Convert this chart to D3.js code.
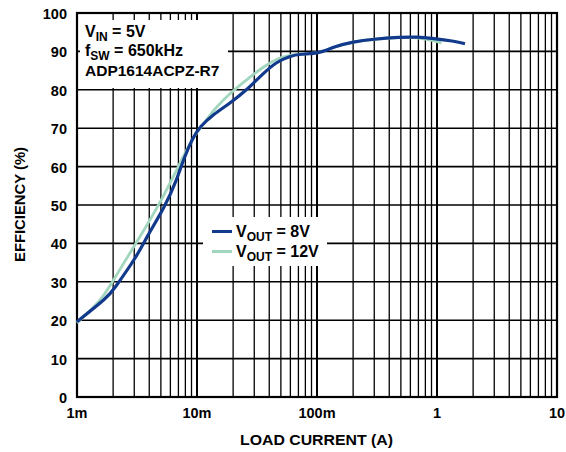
<!DOCTYPE html>
<html><head><meta charset="utf-8">
<script src="https://cdn.jsdelivr.net/npm/d3@7"></script>
<style>
body{margin:0;background:#fff;}
svg text{font-family:"Liberation Sans",Arial,sans-serif;font-weight:bold;fill:#000;}
</style></head>
<body><svg id="c" width="566" height="452"></svg>
<script>
// Load current (A) and efficiency (%)
const current8 = [0.001,0.00182,0.00201,0.00314,0.00381,0.00541,0.00677,0.00769,0.00931,0.0106,0.0137,0.0188,0.0259,0.0357,0.0461,0.0596,0.0721,0.106,0.137,0.201,0.294,0.492,0.677,0.931,1.37,1.71];
const eff8     = [19.6,26.1,27.9,36.5,41.7,49.6,56.5,61.8,67.8,70.4,73.6,76.5,79.9,84.3,87.3,88.8,89.3,89.5,91.2,92.5,93.2,93.7,93.8,93.4,92.7,92.0];
const current12 = [0.001,0.00161,0.00201,0.0031,0.00492,0.00721,0.00931,0.0120,0.0137,0.0188,0.0259,0.0357,0.0492,0.0677,0.106,0.137,0.201,0.294,0.492,0.677,0.931,1.09];
const eff12     = [19.3,25.3,30.5,40.0,50.4,60.9,67.8,72.1,74.7,79.1,82.6,86.0,88.6,89.3,89.5,91.2,92.5,93.2,93.7,93.7,92.8,92.2];
const xTicks = [0.001,0.01,0.1,1,10];
const xTickLabels = ["1m","10m","100m","1","10"];
const yTicks = [0,10,20,30,40,50,60,70,80,90,100];
const seriesNames = ["8V","12V"];
const seriesColors = ["#123a8c","#a3d6be"];

const svg = d3.select("#c");
const L=77,R=557,T=13,B=397;
const x = d3.scaleLog().domain([0.001,10]).range([L,R]);
const y = d3.scaleLinear().domain([0,100]).range([B,T]);

// minor vertical grid
const minor=[];
for(let d=0.001; d<10; d*=10){ for(let k=2;k<=9;k++) minor.push(d*k); }
svg.append("g").selectAll("line").data(minor).join("line")
  .attr("x1",d=>x(d)).attr("x2",d=>x(d)).attr("y1",T).attr("y2",B)
  .attr("stroke","#000").attr("stroke-width",1.3);
svg.append("g").selectAll("line").data(xTicks).join("line")
  .attr("x1",d=>x(d)).attr("x2",d=>x(d)).attr("y1",T).attr("y2",B)
  .attr("stroke","#000").attr("stroke-width",2);
svg.append("g").selectAll("line").data(yTicks).join("line")
  .attr("x1",L).attr("x2",R).attr("y1",d=>y(d)).attr("y2",d=>y(d))
  .attr("stroke","#000").attr("stroke-width",1.6);

// white boxes
svg.append("rect").attr("x",80).attr("y",20).attr("width",148).attr("height",68).attr("fill","#fff");
svg.append("rect").attr("x",203).attr("y",217).attr("width",124).attr("height",49).attr("fill","#fff");

// border
svg.append("rect").attr("x",L).attr("y",T).attr("width",R-L).attr("height",B-T)
  .attr("fill","none").attr("stroke","#000").attr("stroke-width",2.2);

// curves
const line = d3.line().x(d=>x(d[0])).y(d=>y(d[1])).curve(d3.curveBasis);
const d12 = current12.map((c,i)=>[c,eff12[i]]);
const d8 = current8.map((c,i)=>[c,eff8[i]]);
svg.append("path").datum(d12).attr("d",line).attr("fill","none").attr("stroke",seriesColors[1]).attr("stroke-width",2.8);
svg.append("path").datum(d8).attr("d",line).attr("fill","none").attr("stroke",seriesColors[0]).attr("stroke-width",3.2);

// axis labels
svg.append("g").selectAll("text").data(yTicks).join("text")
  .attr("x",67).attr("y",d=>y(d)+1).attr("dy","0.35em").attr("text-anchor","end")
  .style("font-size","14.5px").text(d=>d);
svg.append("g").selectAll("text").data(xTicks).join("text")
  .attr("x",d=>x(d)).attr("y",418).attr("text-anchor","middle")
  .style("font-size","14.5px").text((d,i)=>xTickLabels[i]);
svg.append("text").attr("x",240).attr("y",445)
  .attr("textLength",153).attr("lengthAdjust","spacingAndGlyphs")
  .style("font-size","14px").text("LOAD CURRENT (A)");
svg.append("text").attr("transform","translate(25,205) rotate(-90)").attr("x",-57)
  .attr("textLength",115).attr("lengthAdjust","spacingAndGlyphs")
  .style("font-size","14px").text("EFFICIENCY (%)");

// annotation
const ann = svg.append("g").style("font-size","16px");
let t = ann.append("text").attr("x",85).attr("y",37);
t.append("tspan").text("V");
t.append("tspan").attr("dy",4).style("font-size","12px").text("IN");
t.append("tspan").attr("dy",-4).text(" = 5V");
t = ann.append("text").attr("x",85).attr("y",55.5);
t.append("tspan").text("f");
t.append("tspan").attr("dy",4).style("font-size","12px").text("SW");
t.append("tspan").attr("dy",-4).text(" = 650kHz");
ann.append("text").attr("x",85).attr("y",76)
  .style("font-size","15.5px").text("ADP1614ACPZ-R7");

// legend
const lg = svg.append("g").style("font-size","16px");
seriesNames.forEach((n,i)=>{
  const yy = 231.5 + i*20;
  lg.append("line").attr("x1",212).attr("x2",232).attr("y1",yy).attr("y2",yy)
    .attr("stroke",seriesColors[i]).attr("stroke-width",3);
  const tt = lg.append("text").attr("x",236).attr("y",yy+5.5);
  tt.append("tspan").text("V");
  tt.append("tspan").attr("dy",4).style("font-size","12px").text("OUT");
  tt.append("tspan").attr("dy",-4).text(" = "+n);
});
</script></body></html>
